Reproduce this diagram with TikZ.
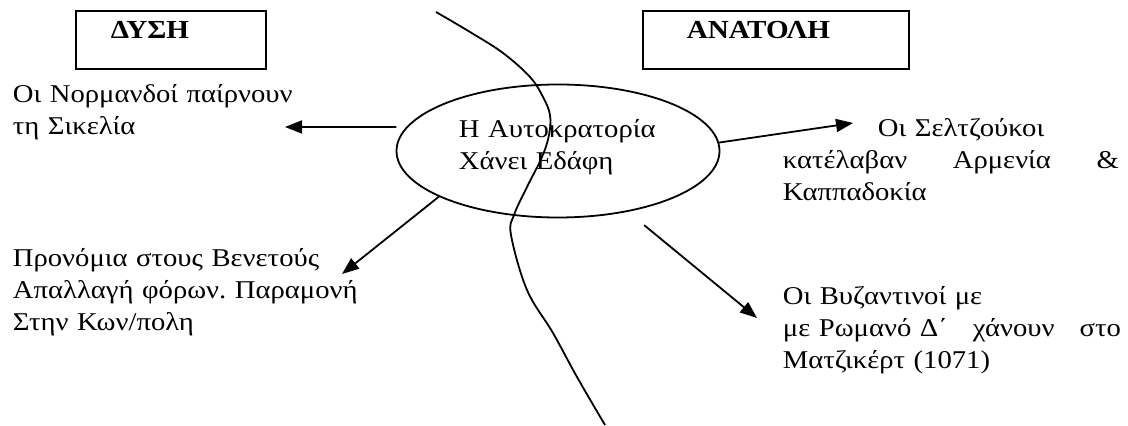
\documentclass[tikz,border=0pt]{standalone}
\usepackage{fontspec}
\setmainfont{Liberation Serif}[FakeStretch=1.12]
\usetikzlibrary{arrows.meta,shapes.geometric}
\frenchspacing
\begin{document}
\begin{tikzpicture}[x=0.5pt,y=-0.5pt,line width=0.9pt,
	headtext/.style={anchor=base west, inner sep=0, font=\fontsize{13}{16}\selectfont\bfseries},
	txt/.style={anchor=base west, inner sep=0, align=left, font=\fontsize{12.8}{16}\selectfont},
	arr/.style={-{Triangle[length=8.5pt,width=6.5pt]}}]
	\useasboundingbox (0,0) rectangle (1128,426);
	% headings
	\draw (76,11) rectangle (266,69);
	\node[headtext] (west label) at (110,39) {ΔΥΣΗ};
	\draw (643,11) rectangle (909,69);
	\node[headtext] (east label) at (686,39) {ΑΝΑΤΟΛΗ};
	% centre
	\node[draw, ellipse, minimum width=161.5pt, minimum height=66.5pt, inner sep=0] (empire) at (558,151) {};
	\node[txt, text width=100pt] (empire text) at (458,138) {Η Αυτοκρατορία\\Χάνει Εδάφη};
	% dividing line
	\draw plot[smooth, tension=0.6] coordinates {(436,12) (470,32) (503,53) (530,77) (543,97) (550,115) (549,135) (542,157) (527,187) (514,215) (511,235) (527,290) (553,333) (577,377) (605,425)};
	% texts
	\node[txt, text width=140pt] (normans) at (12,103) {Οι Νορμανδοί παίρνουν\\τη Σικελία};
	\node[txt, text width=185pt] (venice) at (12,267) {Προνόμια στους Βενετούς\\Απαλλαγή φόρων. Παραμονή\\Στην Κων/πολη};
	\node[txt, text width=168pt] (seljuks) at (782,137) {\hspace*{47.5pt}Οι Σελτζούκοι\\κατέλαβαν\hfill Αρμενία\hfill \&\\Καππαδοκία};
	\node[txt, text width=169pt] (byzantines) at (782,305) {Οι Βυζαντινοί με\\με Ρωμανό Δ΄\hfill χάνουν\hfill στο\\Ματζικέρτ (1071)};
	% arrows
	\coordinate (normans tip) at (285,127);
	\coordinate (seljuks tip) at (853,123);
	\coordinate (venice tip) at (342,274);
	\coordinate (byzantines tip) at (757,318);
	\draw[arr, shorten <=5pt] (empire.171) -- (normans tip);
	\draw[arr] (empire.3) -- (seljuks tip);
	\draw[arr] (empire.201) -- (venice tip);
	\draw[arr, shorten <=10.5pt] (empire.-41) -- (byzantines tip);
\end{tikzpicture}
\end{document}
